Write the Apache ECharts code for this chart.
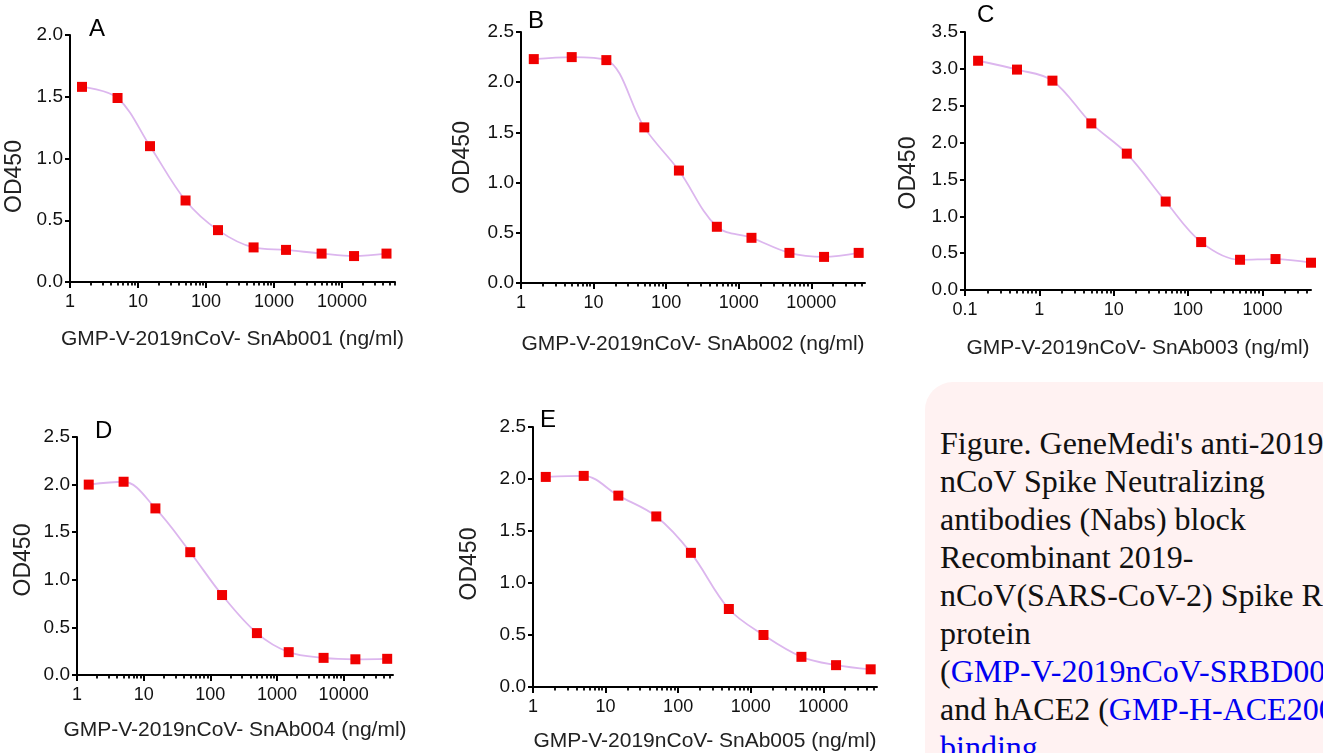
<!DOCTYPE html>
<html>
<head>
<meta charset="utf-8">
<script src="https://cdn.jsdelivr.net/npm/echarts@6/dist/echarts.min.js"></script>
<style>
    html, body { margin: 0; padding: 0; background: #fff; overflow: hidden; }
    #main { position: absolute; left: 0; top: 0; width: 1323px; height: 753px; }
    #note {
        position: absolute; left: 925px; top: 382px; width: 520px; height: 420px;
        background: #fff2f2; border-top-left-radius: 28px;
        font-family: "Liberation Serif", serif; font-size: 32px; line-height: 38px;
        color: #111; padding: 42px 0 0 15px; box-sizing: border-box; white-space: nowrap;
    }
    #note .lnk { color: #0000f0; }
</style>
</head>
<body>
<div id="main"></div>
<div id="note">Figure. GeneMedi's anti-2019-<br>nCoV Spike Neutralizing<br>antibodies (Nabs) block<br>Recombinant 2019-<br>nCoV(SARS-CoV-2) Spike RBD<br>protein<br>(<span class="lnk">GMP-V-2019nCoV-SRBD001</span>)<br>and hACE2 (<span class="lnk">GMP-H-ACE2001</span>)<br><span class="lnk">binding</span></div>
<script>
// concentrations (ng/ml)
var concAB = [1.5, 5, 15, 50, 150, 500, 1500, 5000, 15000, 45000];
var concC = [0.15, 0.5, 1.5, 5, 15, 50, 150, 500, 1500, 4500];

// OD450 readings
var odA = [1.58, 1.49, 1.10, 0.66, 0.42, 0.28, 0.26, 0.23, 0.21, 0.23];
var odB = [2.23, 2.25, 2.22, 1.55, 1.12, 0.56, 0.45, 0.30, 0.26, 0.30];
var odC = [3.11, 2.99, 2.84, 2.26, 1.85, 1.20, 0.65, 0.41, 0.42, 0.37];
var odD = [2.00, 2.03, 1.75, 1.29, 0.84, 0.44, 0.24, 0.18, 0.165, 0.17];
var odE = [2.02, 2.03, 1.84, 1.64, 1.29, 0.75, 0.50, 0.29, 0.21, 0.17];

var letters = ['A', 'B', 'C', 'D', 'E'];
var xNames = [
    'GMP-V-2019nCoV- SnAb001 (ng/ml)',
    'GMP-V-2019nCoV- SnAb002 (ng/ml)',
    'GMP-V-2019nCoV- SnAb003 (ng/ml)',
    'GMP-V-2019nCoV- SnAb004 (ng/ml)',
    'GMP-V-2019nCoV- SnAb005 (ng/ml)'
];
var xTicksAB = [1, 10, 100, 1000, 10000];
var xTicksC = [0.1, 1, 10, 100, 1000];
var yMaxes = [2.0, 2.5, 3.5, 2.5, 2.5];

// layout of each panel
var layout = [
    {grid: {left: 70, top: 35, width: 325, height: 247}, xmin: 1, xmax: 60000, gap: 47, ygap: 44, yshift: 36, lt: [89, 17]},
    {grid: {left: 521, top: 32, width: 344, height: 251}, xmin: 1, xmax: 55000, gap: 51, ygap: 47, yshift: 0, lt: [528, 9]},
    {grid: {left: 965, top: 32, width: 346, height: 258}, xmin: 0.1, xmax: 4500, gap: 48, ygap: 45, yshift: 24, lt: [977, 3]},
    {grid: {left: 77, top: 437, width: 316, height: 238}, xmin: 1, xmax: 55000, gap: 45, ygap: 42, yshift: 8, lt: [95, 419]},
    {grid: {left: 533, top: 427, width: 344, height: 261}, xmin: 1, xmax: 55000, gap: 44, ygap: 52, yshift: 14, lt: [540, 408]}
];

var series_x = [concAB, concAB, concC, concAB, concAB];
var series_y = [odA, odB, odC, odD, odE];
var majors = [xTicksAB, xTicksAB, xTicksC, xTicksAB, xTicksAB];

// 2..9 x 10^k inside the axis range
function minorTicks(min, max) {
    var out = [];
    for (var p = min; p < max; p *= 10) {
        for (var k = 2; k <= 9; k++) {
            var v = +(p * k).toPrecision(3);
            if (v <= max) out.push(v);
        }
    }
    return out;
}

var ink = '#000';
var grids = [], xAxes = [], yAxes = [], series = [], titles = [];

for (var i = 0; i < 5; i++) {
    var L = layout[i];
    grids.push(L.grid);
    titles.push({
        text: letters[i], left: L.lt[0], top: L.lt[1], padding: 0,
        textStyle: {fontFamily: 'Liberation Sans', fontSize: 24, fontWeight: 'normal', color: ink}
    });
    // main log axis: line, decade ticks, labels, name
    xAxes.push({
        type: 'log', gridIndex: i, position: 'bottom', min: L.xmin, max: L.xmax,
        name: xNames[i], nameLocation: 'middle', nameGap: L.gap,
        nameTextStyle: {fontFamily: 'Liberation Sans', fontSize: 21, color: '#222'},
        axisLine: {show: true, onZero: false, lineStyle: {color: ink, width: 2}},
        axisTick: {show: true, customValues: majors[i], length: 6, lineStyle: {color: ink, width: 2}},
        axisLabel: {show: true, customValues: majors[i], margin: 11, fontFamily: 'Liberation Sans', fontSize: 18, color: '#111',
            formatter: function (v) { return String(+v.toPrecision(6)); }},
        splitLine: {show: false},
        z: 5
    });
    // second log axis on the same grid, only for the 2..9 minor ticks
    xAxes.push({
        type: 'log', gridIndex: i, position: 'bottom', min: L.xmin, max: L.xmax,
        axisLine: {show: true, onZero: false, lineStyle: {color: ink, width: 2, opacity: 0}},
        axisTick: {show: true, customValues: minorTicks(L.xmin, L.xmax), length: 3.5, lineStyle: {color: ink, width: 1.8}},
        axisLabel: {show: false},
        splitLine: {show: false}
    });
    yAxes.push({
        type: 'value', gridIndex: i, min: 0, max: yMaxes[i], interval: 0.5,
        name: 'OD450', nameLocation: 'middle', nameGap: L.ygap,
        nameTextStyle: {fontFamily: 'Liberation Sans', fontSize: 23, color: '#222', padding: [0, L.yshift, 0, 0]},
        axisLine: {show: true, onZero: false, lineStyle: {color: ink, width: 2}},
        axisTick: {show: true, length: 5, lineStyle: {color: ink, width: 2}},
        axisLabel: {margin: 7, fontFamily: 'Liberation Sans', fontSize: 19, color: '#111',
            formatter: function (v) { return v.toFixed(1); }},
        splitLine: {show: false}
    });
    var pts = [];
    for (var j = 0; j < series_x[i].length; j++) {
        pts.push([series_x[i][j], series_y[i][j]]);
    }
    series.push({
        type: 'line', xAxisIndex: i * 2, yAxisIndex: i, data: pts,
        smooth: 0.35, clip: false,
        symbol: 'rect', symbolSize: 10,
        itemStyle: {color: '#f00000'},
        lineStyle: {color: '#dcb6ee', width: 1.8},
        z: 3
    });
}

var myChart = echarts.init(document.getElementById('main'));
myChart.setOption({
    animation: false,
    title: titles,
    grid: grids,
    xAxis: xAxes,
    yAxis: yAxes,
    series: series
});
</script>
</body>
</html>
